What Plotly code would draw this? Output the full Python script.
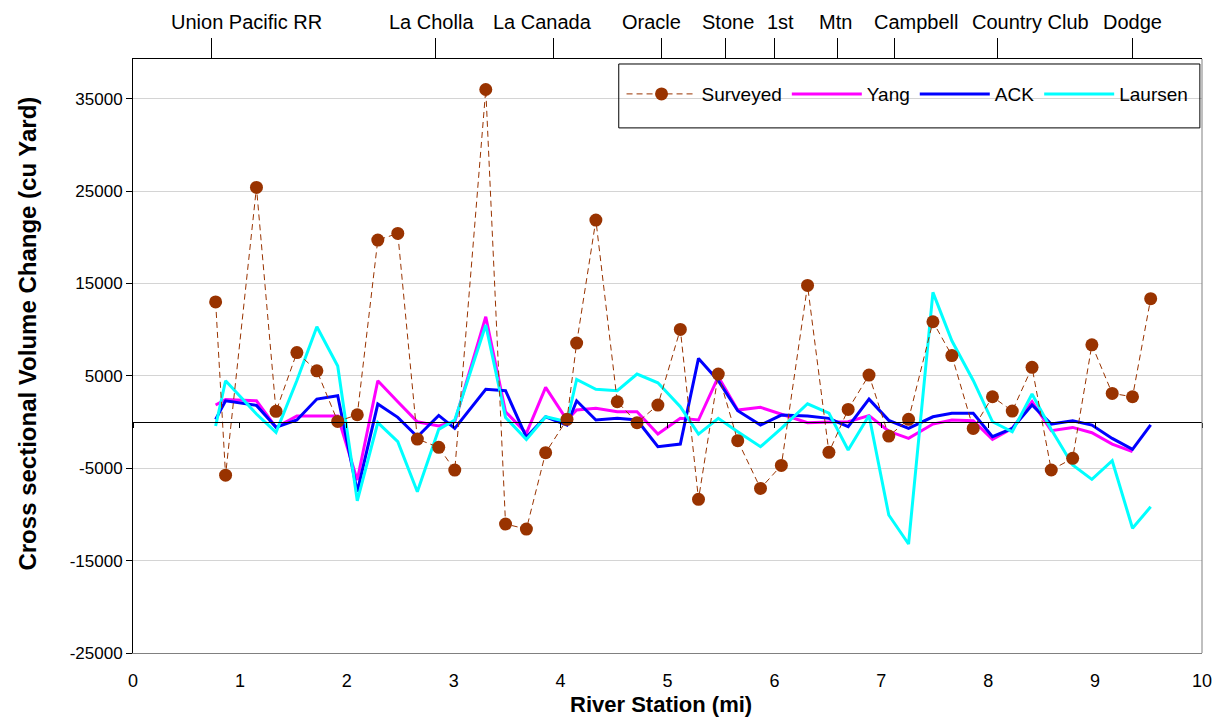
import plotly.graph_objects as go

# River stations (mi) where cross sections were surveyed / modelled
station_mi = [0.773, 0.866, 1.155, 1.338, 1.533, 1.72, 1.915, 2.098, 2.29, 2.477,
              2.66, 2.86, 3.01, 3.30, 3.485, 3.68, 3.86, 4.06, 4.15, 4.33,
              4.53, 4.715, 4.91, 5.12, 5.29, 5.475, 5.657, 5.87, 6.065, 6.31,
              6.51, 6.69, 6.885, 7.07, 7.255, 7.483, 7.66, 7.86, 8.04, 8.225,
              8.41, 8.59, 8.79, 8.97, 9.16, 9.35, 9.52]

# Cross sectional volume change (cu yd)
surveyed = [13000, -5750, 25400, 1160, 7520, 5550, 70, 790, 19700, 20420,
            -1840, -2740, -5200, 36000, -11040, -11580, -3320, 290, 8550, 21860,
            2200, -70, 1840, 10030, -8370, 5190, -2020, -7180, -4690, 14790,
            -3280, 1370, 5090, -1520, 290, 10860, 7200, -690, 2740, 1190,
            5920, -5190, -3930, 8360, 3100, 2740, 13350]

yang = [1840, 2450, 2300, -580, 650, 650, 650, -6280, 4470, 2200,
        30, -430, 30, 11400, 1120, -1230, 3750, 220, 1300, 1480,
        1120, 1120, -1300, 400, 220, 4900, 1300, 1590, 870, -70,
        0, 30, 700, -1000, -1770, -220, 220, 140, -1880, -690,
        2200, -940, -580, -1160, -2380, -3210, None]

ack = [290, 2300, 1800, -570, 220, 2490, 2850, -7540, 1950, 510,
       -1590, 720, -690, 3540, 3390, -1660, 570, -330, 2300, 220,
       400, 220, -2670, -2380, 6890, 4470, 1220, -330, 760, 650,
       400, -500, 2480, 180, -690, 570, 940, 940, -1590, -690,
       1840, -220, 140, -330, -1770, -2960, -300]

laursen = [-430, 4470, 870, -1120, 4500, 10310, 6060, -8520, -70, -2130,
           -7540, -790, 220, 10500, 500, -1880, 570, 30, 4620, 3540,
           3390, 5190, 4250, 1660, -1300, 400, -1050, -2670, -690, 1980,
           970, -3030, 700, -10060, -13200, 14040, 8800, 4500, 30, -1050,
           3030, -810, -4650, -6200, -4190, -11500, -9170]

# Landmarks along the river (top axis)
landmarks = ["Union Pacific RR", "La Cholla", "La Canada", "Oracle", "Stone",
             "1st", "Mtn", "Campbell", "Country Club", "Dodge"]
landmark_mi = [0.73, 2.83, 3.93, 4.94, 5.54, 6.0, 6.59, 7.12, 8.09, 9.35]
landmark_label_mi = [1.06, 2.79, 3.83, 4.85, 5.57, 6.06, 6.57, 7.32, 8.40, 9.35]

x_range = [0, 10]
y_range = [-25000, 39300]
y_ticks = [-25000, -15000, -5000, 5000, 15000, 25000, 35000]
y_tick_labels = ["-25000", "-15000", "-5000", "5000", "15000", "25000", "35000"]

FONT = "Liberation Sans"
zero_pos = (0 - y_range[0]) / (y_range[1] - y_range[0])

fig = go.Figure()

# Model results; each sits on its own overlaid x axis so that the top
# landmark axis and the axis line along zero are drawn as well.
fig.add_trace(go.Scatter(
    x=station_mi, y=yang, name="Yang", mode="lines",
    line=dict(color="#FF00FF", width=3), legendrank=2,
    xaxis="x", yaxis="y"))
fig.add_trace(go.Scatter(
    x=station_mi, y=ack, name="ACK", mode="lines",
    line=dict(color="#0000FF", width=3), legendrank=3,
    xaxis="x2", yaxis="y"))
fig.add_trace(go.Scatter(
    x=station_mi, y=laursen, name="Laursen", mode="lines",
    line=dict(color="#00FFFF", width=3), legendrank=4,
    xaxis="x3", yaxis="y"))
fig.add_trace(go.Scatter(
    x=station_mi, y=surveyed, name="Surveyed", mode="lines+markers",
    line=dict(color="#993300", width=1, dash="6px,4px"),
    marker=dict(color="#993300", size=13), legendrank=1,
    xaxis="x3", yaxis="y"))

fig.update_layout(
    width=1224, height=717, autosize=False,
    margin=dict(l=133, r=17, t=59, b=64),
    paper_bgcolor="white", plot_bgcolor="white",
    font=dict(family=FONT, size=17, color="black"),
    showlegend=True,
    legend=dict(
        orientation="h", x=0.457, xanchor="left", y=0.941, yanchor="middle",
        bgcolor="rgba(0,0,0,0)", borderwidth=0,
        font=dict(family=FONT, size=19, color="black"),
        itemwidth=70, traceorder="normal", itemclick=False,
    ),
    xaxis=dict(
        range=x_range, tickmode="linear", tick0=0, dtick=1,
        showgrid=False, zeroline=False,
        showline=True, linecolor="#808080", linewidth=1,
        ticks="", ticklabelstandoff=11,
        tickfont=dict(family=FONT, size=18),
    ),
    xaxis2=dict(
        range=x_range, overlaying="x", side="top", anchor="y",
        tickmode="array", tickvals=landmark_mi, showticklabels=False,
        ticks="outside", ticklen=20, tickcolor="black", tickwidth=1,
        showgrid=False, zeroline=False,
        showline=True, linecolor="black", linewidth=1,
    ),
    xaxis3=dict(
        range=x_range, overlaying="x", anchor="free", position=zero_pos,
        tickmode="linear", tick0=0, dtick=1, showticklabels=False,
        ticks="outside", ticklen=5, tickcolor="black", tickwidth=1,
        showgrid=False, zeroline=False,
        showline=True, linecolor="black", linewidth=1,
    ),
    yaxis=dict(
        range=y_range, tickmode="array", tickvals=y_ticks,
        ticktext=y_tick_labels,
        showgrid=True, gridcolor="#d4d4d4", gridwidth=1,
        zeroline=False,
        showline=True, linecolor="black", linewidth=1,
        ticks="outside", ticklen=6, tickcolor="black",
        tickfont=dict(family=FONT, size=17),
    ),
)

# Right-hand border of the plot area
fig.add_shape(type="line", xref="paper", yref="paper", x0=1, x1=1, y0=0, y1=1,
              line=dict(color="#808080", width=1))

# Legend frame
fig.add_shape(type="rect", xref="paper", yref="paper",
              x0=0.4544, x1=0.998, y0=0.884, y1=0.9916,
              line=dict(color="black", width=1), fillcolor="rgba(0,0,0,0)")

# Landmark names above the top axis
for name, xm in zip(landmarks, landmark_label_mi):
    fig.add_annotation(x=xm, xref="x", y=1.0623, yref="paper", text=name,
                       showarrow=False, xanchor="center", yanchor="middle",
                       font=dict(family=FONT, size=20, color="black"))

# Axis titles
fig.add_annotation(x=-0.0996, xref="paper", y=0.537, yref="paper",
                   text="<b>Cross sectional Volume Change (cu Yard)</b>",
                   textangle=-90, showarrow=False,
                   xanchor="center", yanchor="middle",
                   font=dict(family=FONT, size=24, color="black"))
fig.add_annotation(x=0.494, xref="paper", y=-0.0875, yref="paper",
                   text="<b>River Station (mi)</b>", showarrow=False,
                   xanchor="center", yanchor="middle",
                   font=dict(family=FONT, size=22, color="black"))

fig.write_html("out.html")
